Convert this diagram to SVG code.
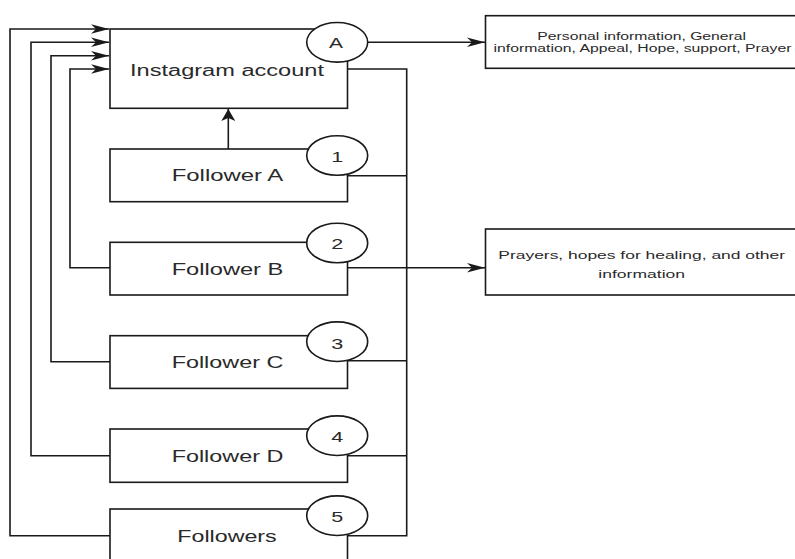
<svg xmlns="http://www.w3.org/2000/svg" width="795" height="559" viewBox="0 0 795 559">
<style>
.box{fill:#fff;stroke:#1a1a1a;stroke-width:1.6}
.circ{fill:#fff;stroke:#1a1a1a;stroke-width:1.6}
.ln{fill:none;stroke:#1a1a1a;stroke-width:1.6}
.t{font-family:"Liberation Sans",Arial,sans-serif;fill:#2a2a2a;text-anchor:middle}
.big{font-size:16px}
.num{font-size:15px}
.small{font-size:10px}
</style>
<defs>
<marker id="ah" markerUnits="userSpaceOnUse" markerWidth="20" markerHeight="12" viewBox="-19 -6 20 12" refX="0" refY="0" orient="auto">
<path d="M0,0 L-18,-4.8 L-13,0 L-18,4.8 Z" fill="#1a1a1a"/>
</marker>
<marker id="av" markerUnits="userSpaceOnUse" markerWidth="14" markerHeight="16" viewBox="-13 -8 14 16" refX="0" refY="0" orient="auto">
<path d="M0,0 L-12,-7 L-9,0 L-12,7 Z" fill="#1a1a1a"/>
</marker>
</defs>
<rect width="795" height="559" fill="#fff"/>
<g id="connectors">
<path class="ln" d="M110,535.7 H10 V29 H109" marker-end="url(#ah)"/>
<path class="ln" d="M110,455.7 H31 V42.3 H109" marker-end="url(#ah)"/>
<path class="ln" d="M110,361.7 H51 V55.7 H109" marker-end="url(#ah)"/>
<path class="ln" d="M110,267.7 H70 V69 H109" marker-end="url(#ah)"/>
<path class="ln" d="M228.3,149 V109" marker-end="url(#av)"/>
<path class="ln" d="M367.7,42.3 H485" marker-end="url(#ah)"/>
<path class="ln" d="M347.5,69 H406.7 V535.7 H347.5"/>
<path class="ln" d="M347.5,175.7 H406.7"/>
<path class="ln" d="M347.5,360.7 H406.7"/>
<path class="ln" d="M347.5,455.7 H406.7"/>
<path class="ln" d="M347.5,267.7 H485" marker-end="url(#ah)"/>
</g>
<g id="instagram">
<rect class="box" x="110" y="29" width="237.5" height="79.3"/>
<text class="t big" x="227" y="75.5" textLength="194" lengthAdjust="spacingAndGlyphs">Instagram account</text>
</g>
<g id="circleA">
<ellipse class="circ" cx="337.2" cy="42.3" rx="30.5" ry="19.8"/>
<text class="t num" x="336" y="48" textLength="14" lengthAdjust="spacingAndGlyphs">A</text>
</g>
<g id="followerA">
<rect class="box" x="110" y="149" width="237.5" height="52.7"/>
<text class="t big" x="227.5" y="181" textLength="111.6" lengthAdjust="spacingAndGlyphs">Follower A</text>
<ellipse class="circ" cx="337.2" cy="155.5" rx="30.5" ry="19.8"/>
<text class="t num" x="337.2" y="161.5" textLength="12" lengthAdjust="spacingAndGlyphs">1</text>
</g>
<g id="followerB">
<rect class="box" x="110" y="242.3" width="237.5" height="52.7"/>
<text class="t big" x="227.5" y="274.5" textLength="111.6" lengthAdjust="spacingAndGlyphs">Follower B</text>
<ellipse class="circ" cx="337.2" cy="243" rx="30.5" ry="19.8"/>
<text class="t num" x="337.2" y="248.5" textLength="12" lengthAdjust="spacingAndGlyphs">2</text>
</g>
<g id="followerC">
<rect class="box" x="110" y="335.7" width="237.5" height="52.7"/>
<text class="t big" x="227.5" y="368" textLength="111.6" lengthAdjust="spacingAndGlyphs">Follower C</text>
<ellipse class="circ" cx="337.2" cy="341.7" rx="30.5" ry="19.8"/>
<text class="t num" x="337.2" y="348.5" textLength="12" lengthAdjust="spacingAndGlyphs">3</text>
</g>
<g id="followerD">
<rect class="box" x="110" y="429" width="237.5" height="53.3"/>
<text class="t big" x="227.5" y="461.5" textLength="111.6" lengthAdjust="spacingAndGlyphs">Follower D</text>
<ellipse class="circ" cx="337.2" cy="435.7" rx="30.5" ry="19.8"/>
<text class="t num" x="337.2" y="442" textLength="12" lengthAdjust="spacingAndGlyphs">4</text>
</g>
<g id="followers">
<rect class="box" x="110" y="509" width="237.5" height="70"/>
<text class="t big" x="227" y="541.5" textLength="99.4" lengthAdjust="spacingAndGlyphs">Followers</text>
<ellipse class="circ" cx="337.2" cy="515.7" rx="30.5" ry="19.8"/>
<text class="t num" x="337.2" y="522" textLength="12" lengthAdjust="spacingAndGlyphs">5</text>
</g>
<g id="info1">
<rect class="box" x="485.5" y="15.7" width="320" height="52.6"/>
<text class="t small" x="641.7" y="40" textLength="208.7" lengthAdjust="spacingAndGlyphs">Personal information, General</text>
<text class="t small" x="642.5" y="51.5" textLength="298" lengthAdjust="spacingAndGlyphs">information, Appeal, Hope, support, Prayer</text>
</g>
<g id="info2">
<rect class="box" x="485.5" y="229" width="320" height="66"/>
<text class="t small" x="641.7" y="258.5" textLength="286.7" lengthAdjust="spacingAndGlyphs">Prayers, hopes for healing, and other</text>
<text class="t small" x="641.7" y="277.5" textLength="86.7" lengthAdjust="spacingAndGlyphs">information</text>
</g>
</svg>
